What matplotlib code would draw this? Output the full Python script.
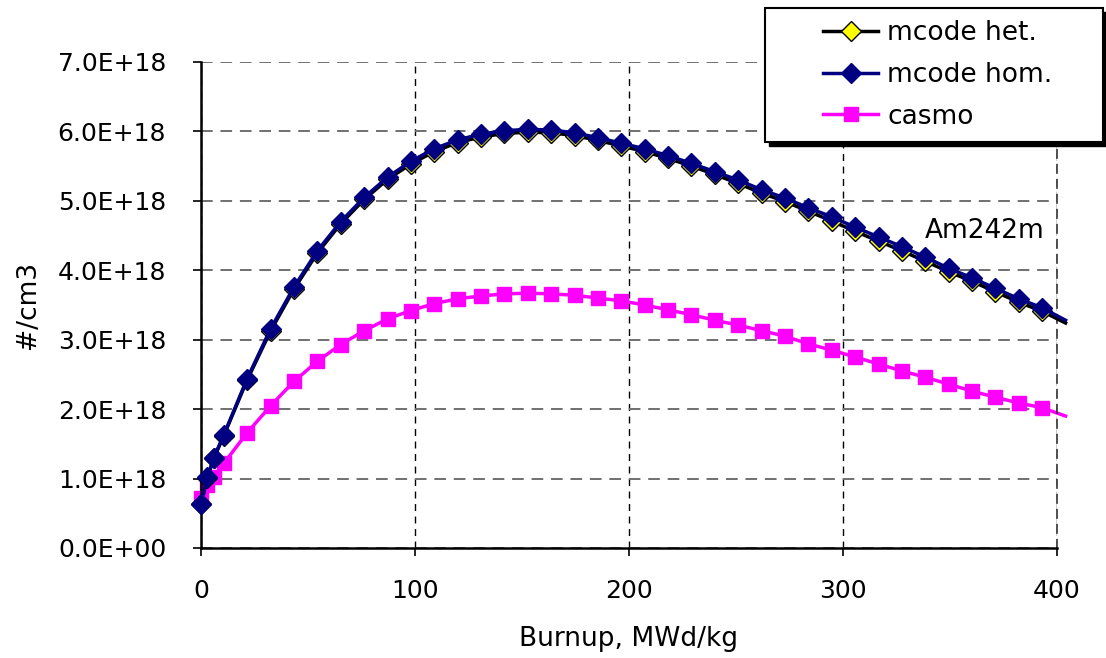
import matplotlib
matplotlib.use("Agg")
import matplotlib.pyplot as plt
from matplotlib.patches import Rectangle
from matplotlib.lines import Line2D
from matplotlib.ticker import FuncFormatter

# burnup points (MWd/kg), last one is just where the line runs off the chart
burnup = [0, 3, 6, 10.7, 21.6, 32.6, 43.5, 54.4, 65.3, 76.3, 87.2, 98.1, 109.0,
          120.0, 130.9, 141.8, 152.7, 163.7, 174.6, 185.5, 196.4, 207.3, 218.3,
          229.2, 240.1, 251.0, 262.0, 272.9, 283.8, 294.7, 305.7, 316.6, 327.5,
          338.4, 349.3, 360.3, 371.2, 382.1, 393.0, 404.0]

# densities in 1E18 #/cm3
mcode_het = [0.63, 1.01, 1.29, 1.62, 2.42, 3.13, 3.73, 4.25, 4.67, 5.02, 5.31,
             5.53, 5.71, 5.84, 5.92, 5.97, 5.99, 5.98, 5.94, 5.87, 5.79, 5.71,
             5.61, 5.50, 5.38, 5.25, 5.11, 4.99, 4.85, 4.71, 4.56, 4.42, 4.28,
             4.13, 3.98, 3.84, 3.69, 3.54, 3.41, 3.24]
mcode_hom = [0.63, 1.02, 1.30, 1.63, 2.44, 3.16, 3.76, 4.28, 4.70, 5.05, 5.34,
             5.57, 5.75, 5.88, 5.96, 6.01, 6.03, 6.02, 5.98, 5.91, 5.83, 5.75,
             5.65, 5.54, 5.42, 5.30, 5.16, 5.04, 4.90, 4.77, 4.62, 4.48, 4.34,
             4.19, 4.03, 3.89, 3.74, 3.59, 3.46, 3.28]
casmo = [0.72, 0.90, 1.02, 1.22, 1.66, 2.05, 2.40, 2.69, 2.93, 3.13, 3.30,
         3.42, 3.52, 3.59, 3.63, 3.66, 3.67, 3.66, 3.64, 3.60, 3.56, 3.50,
         3.43, 3.36, 3.28, 3.21, 3.13, 3.05, 2.94, 2.85, 2.75, 2.65, 2.55,
         2.46, 2.36, 2.26, 2.17, 2.09, 2.02, 1.90]

xticks = [0, 100, 200, 300, 400]
yticks = [0, 1e18, 2e18, 3e18, 4e18, 5e18, 6e18, 7e18]

plt.rcParams["font.family"] = "DejaVu Sans"
plt.rcParams["font.size"] = 18

fig = plt.figure(figsize=(11.06, 6.58), dpi=100)
ax = fig.add_axes([0.1817, 0.1672, 0.7740, 0.7386])

het = [v * 1e18 for v in mcode_het]
hom = [v * 1e18 for v in mcode_hom]
cas = [v * 1e18 for v in casmo]
marks = slice(0, len(burnup) - 1)

ax.plot(burnup, het, color="black", lw=2.5, marker="D", ms=10,
        mfc="yellow", mec="black", mew=1, markevery=marks, clip_on=False, zorder=3)
ax.plot(burnup, hom, color="#000080", lw=2.5, marker="D", ms=10,
        mfc="#000080", mec="#000080", mew=1, markevery=marks, clip_on=False, zorder=4)
ax.plot(burnup, cas, color="#FF00FF", lw=2.5, marker="s", ms=10.5,
        mfc="#FF00FF", mec="#FF00FF", markevery=marks, clip_on=False, zorder=2)

ax.set_xlim(0, 400)
ax.set_ylim(0, 7e18)
ax.set_xticks(xticks)
ax.set_yticks(yticks)
ax.yaxis.set_major_formatter(FuncFormatter(lambda v, p: "{:.1E}".format(v)))
ax.tick_params(direction="out", length=6, width=1.2)
ax.tick_params(axis="x", pad=16)
ax.tick_params(axis="y", pad=19)

ax.xaxis.grid(True, color="black", linestyle=(0, (5, 4)), lw=1)
ax.yaxis.grid(True, color="#707070", linestyle=(0, (6, 4)), lw=1.4)
ax.set_axisbelow(True)
ax.spines["top"].set_visible(False)
ax.spines["right"].set_linestyle((0, (5, 4)))
ax.spines["right"].set_linewidth(1.2)
ax.spines["right"].set_color("#333333")
for s in ["left", "bottom"]:
    ax.spines[s].set_linewidth(1.8)

ax.set_xlabel("Burnup, MWd/kg", fontsize=19, labelpad=17)
ax.set_ylabel("#/cm3", fontsize=19)
ax.yaxis.set_label_coords(-0.187, 0.5)
ax.text(366, 4.57e18, "Am242m", ha="center", va="center", fontsize=19)

# legend box with hard black shadow
W, H = 1106, 658
fig.patches.append(Rectangle((769 / W, 1 - 146 / H), 338 / W, 134 / H,
                             transform=fig.transFigure, facecolor="black",
                             edgecolor="black", zorder=1))
fig.patches.append(Rectangle((765 / W, 1 - 142 / H), 338 / W, 134 / H,
                             transform=fig.transFigure, facecolor="white",
                             edgecolor="black", lw=1.5, zorder=1))

handles = [
    Line2D([], [], color="black", lw=2.5, marker="D", ms=10, mfc="yellow", mec="black"),
    Line2D([], [], color="#000080", lw=2.5, marker="D", ms=10, mfc="#000080", mec="#000080"),
    Line2D([], [], color="#FF00FF", lw=2.5, marker="s", ms=10.5, mfc="#FF00FF", mec="#FF00FF"),
]
fig.legend(handles, ["mcode het.", "mcode hom.", "casmo"], loc="upper left",
           bbox_to_anchor=(823 / W, 1 - 20 / H), frameon=False, borderpad=0,
           borderaxespad=0, handlelength=2.1, handletextpad=0.33,
           labelspacing=0.6, fontsize=19)

fig.savefig("out.png", dpi=100)
